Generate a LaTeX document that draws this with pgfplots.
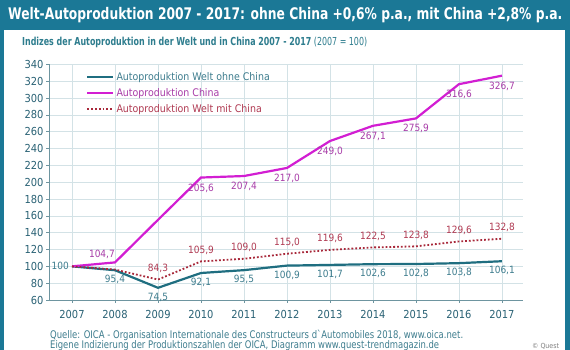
\documentclass[border=0pt]{standalone}
\usepackage{pgfplots}
\pgfplotsset{compat=1.18}
\usepackage{pgfplotstable}
\usepackage{graphicx}
\usepackage{fontspec}
\setmainfont{DejaVu Sans}
\newfontfamily\cond{DejaVu Sans Condensed}
\definecolor{frame}{HTML}{1B7896}
\definecolor{teal1}{HTML}{1F6E80}
\definecolor{mag}{HTML}{D21ED2}
\definecolor{dred}{HTML}{A8283A}
\definecolor{lteal}{HTML}{3E7D8E}
\definecolor{lmag}{HTML}{A83CA8}
\definecolor{lred}{HTML}{B03A52}
\definecolor{gridc}{HTML}{D3E2E6}
\definecolor{axc}{HTML}{6E95A0}
\definecolor{tickc}{HTML}{2A6275}
\definecolor{subc}{HTML}{2E7D8E}

\pgfplotstableread{
year ohne lo china lc mit lm
2007 100   {}    100   {}    100   {}
2008 95.4  95,4  104.7 {}    96.2  {}
2009 74.5  74,5  155.3 {}    84.3  84,3
2010 92.1  92,1  205.6 205,6 105.9 105,9
2011 95.5  95,5  207.4 207,4 109.0 109,0
2012 100.9 100,9 217.0 217,0 115.0 115,0
2013 101.7 101,7 249.0 249,0 119.6 119,6
2014 102.6 102,6 267.1 267,1 122.5 122,5
2015 102.8 102,8 275.9 275,9 123.8 123,8
2016 103.8 103,8 316.6 316,6 129.6 129,6
2017 106.1 106,1 326.7 326,7 132.8 132,8
}\data

\begin{document}
\begin{tikzpicture}[x=1pt,y=1pt]
\useasboundingbox (0,0) rectangle (570,350);
\fill[frame] (0,0) rectangle (570,350);
\fill[white] (4,0) rectangle (565,320);
\node[anchor=west, text=white, font=\cond\fontsize{16}{18}\selectfont\bfseries, inner sep=0pt] at (8,335)
  {\resizebox{554pt}{\height}{Welt-Autoproduktion 2007 - 2017: ohne China +0,6\% p.a., mit China +2,8\% p.a.}};
\node[anchor=west, text=subc, font=\cond\fontsize{11}{13}\selectfont, inner sep=0pt] at (22,308)
  {\resizebox{345pt}{\height}{\textbf{Indizes der Autoproduktion in der Welt und in China 2007 - 2017} (2007 = 100)}};
\node[anchor=west, text=lteal, font=\cond\fontsize{10.5}{12}\selectfont, inner sep=0pt] at (50,15)
  {\resizebox{413pt}{\height}{Quelle: OICA - Organisation Internationale des Constructeurs d`Automobiles 2018, www.oica.net.}};
\node[anchor=west, text=lteal, font=\cond\fontsize{10.5}{12}\selectfont, inner sep=0pt] at (50,4.5)
  {\resizebox{389pt}{\height}{Eigene Indizierung der Produktionszahlen der OICA, Diagramm www.quest-trendmagazin.de}};
\node[anchor=west, text=gray, font=\cond\fontsize{7}{8}\selectfont, inner sep=0pt] at (532,4)
  {\copyright\ Quest};
\begin{axis}[
  at={(49pt,50pt)}, anchor=south west,
  scale only axis, width=474pt, height=235.5pt,
  xmin=2006.465, xmax=2017.49, ymin=60, ymax=340,
  xtick={2007,...,2017}, ytick={60,80,...,340},
  /pgf/number format/1000 sep=,
  /pgf/number format/assume math mode=true,
  grid=major, grid style={color=gridc, line width=0.6pt},
  axis lines*=left,
  axis line style={color=axc, line width=0.8pt},
  tick align=outside, major tick length=3pt,
  tick style={color=axc, line width=0.6pt},
  ticklabel style={text=tickc, font=\cond\fontsize{11}{13}\selectfont},
  xticklabel style={yshift=-4pt},
  yticklabel style={xshift=1pt},
  legend style={at={(0.072,0.985)}, anchor=north west, draw=none, fill=none,
    font=\cond\fontsize{10.5}{12}\selectfont, row sep=2.5pt},
  legend cell align=left,
  legend image code/.code={\draw[#1] (0pt,0pt) -- (26pt,0pt);},
  clip=false,
  nodes near coords,
  point meta=explicit symbolic,
  every node near coord/.append style={font=\cond\fontsize{10}{12}\selectfont, inner sep=2pt},
]
\addplot[teal1, line width=2.2pt, mark=none,
  every node near coord/.append style={anchor=north, text=lteal, yshift=-2pt}]
  table[x=year, y=ohne, meta=lo] {\data};
\addlegendentry{\textcolor{lteal}{Autoproduktion Welt ohne China}}
\addplot[mag, line width=2.2pt, mark=none,
  every node near coord/.append style={anchor=north, text=lmag, yshift=-3pt}]
  table[x=year, y=china, meta=lc] {\data};
\addlegendentry{\textcolor{lmag}{Autoproduktion China}}
\addplot[dred, line width=1.8pt, dotted, mark=none,
  every node near coord/.append style={anchor=south, text=lred, yshift=4pt}]
  table[x=year, y=mit, meta=lm] {\data};
\addlegendentry{\textcolor{lred}{Autoproduktion Welt mit China}}
% single-point labels
\addplot[draw=none, mark=none, forget plot,
  every node near coord/.append style={anchor=east, text=lteal, xshift=-1pt}]
  coordinates {(2007,100) [100]};
\addplot[draw=none, mark=none, forget plot,
  every node near coord/.append style={anchor=south east, text=lmag, xshift=2pt, yshift=2pt}]
  coordinates {(2008,104.7) [104,7]};
\end{axis}
\end{tikzpicture}
\end{document}
